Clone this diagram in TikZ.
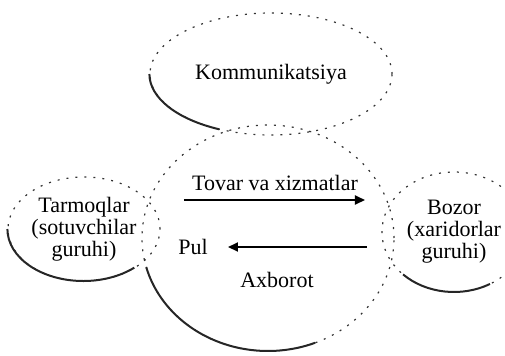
\documentclass[tikz,border=0pt]{standalone}
\usepackage{fontspec}
\setmainfont{Liberation Serif}
\usetikzlibrary{shapes.geometric, arrows.meta}
\tikzset{
    font=\fontsize{11}{11}\selectfont,
    bubble/.style = {
        ellipse, draw=black!80, dash pattern=on 1pt off 3.5pt,
        line width=0.6pt, inner sep=0pt, align=center
    },
    rim/.style = {draw=black!85, line width=1pt},
    yozuv/.style = {align=center, inner sep=1pt},
    flow/.style = {-{Triangle[length=5pt,width=4.5pt]}, line width=1pt}
}
\begin{document}
\begin{tikzpicture}[x=0.5pt, y=-0.5pt]
\useasboundingbox (0,0) rectangle (505,355);
% Ellipses
\node[bubble, minimum width=121pt, minimum height=61pt] (komm) at (271,74) {Kommunikatsiya};
\node[bubble, minimum width=126pt, minimum height=113pt] (markaz) at (268,238) {};
\node[bubble, minimum width=76pt, minimum height=52pt] (tarmoq) at (84,229) {Tarmoqlar\\(sotuvchilar\\guruhi)};
\node[bubble, minimum width=72pt, minimum height=60pt] (bozor) at (454,232) {Bozor\\(xaridorlar\\guruhi)};
% Heavy lower rims
\draw[rim] (komm.west) arc[start angle=180, end angle=245, x radius=60.5pt, y radius=30.5pt];
\draw[rim] (tarmoq.west) arc[start angle=180, end angle=312, x radius=38pt, y radius=26pt];
\draw[rim] ([shift={(195:63pt and 56.5pt)}]markaz.center) arc[start angle=195, end angle=292, x radius=63pt, y radius=56.5pt];
\draw[rim] ([shift={(225:36pt and 30pt)}]bozor.center) arc[start angle=225, end angle=300, x radius=36pt, y radius=30pt];
% Flows
\node[yozuv] (tovar) at (275,183) {Tovar va xizmatlar};
\node[yozuv] (pul) at (193,247) {Pul};
\node[yozuv] (axborot) at (277,280) {Axborot};
\coordinate (t1) at (184,200);
\coordinate (t2) at (365,200);
\coordinate (p1) at (367,247);
\coordinate (p2) at (228,247);
\draw[flow] (t1) -- (t2);
\draw[flow] (p1) -- (p2);
\end{tikzpicture}
\end{document}
